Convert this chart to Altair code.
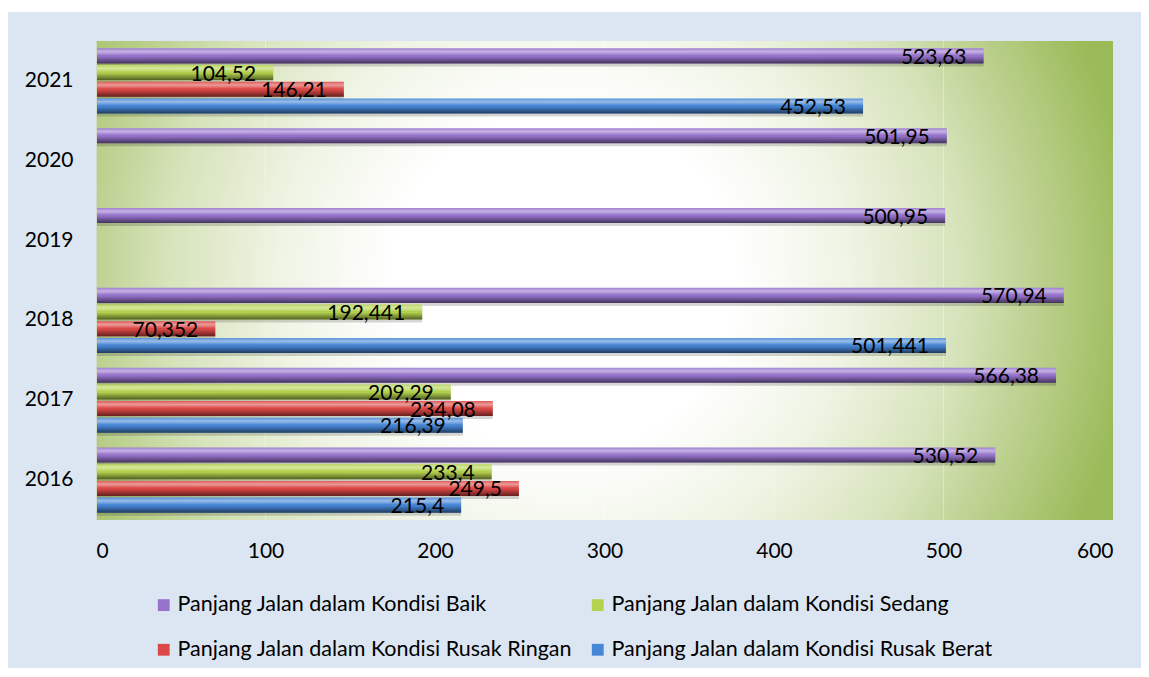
import altair as alt
import pandas as pd

# ---- data ----
years = ["2016", "2017", "2018", "2019", "2020", "2021"]
series = [
    "Panjang Jalan dalam Kondisi Baik",
    "Panjang Jalan dalam Kondisi Sedang",
    "Panjang Jalan dalam Kondisi Rusak Ringan",
    "Panjang Jalan dalam Kondisi Rusak Berat",
]
baik = [530.52, 566.38, 570.94, 500.95, 501.95, 523.63]
sedang = [233.4, 209.29, 192.441, None, None, 104.52]
rusak_ringan = [249.5, 234.08, 70.352, None, None, 146.21]
rusak_berat = [215.4, 216.39, 501.441, None, None, 452.53]
x_ticks = [0, 100, 200, 300, 400, 500, 600]
grid_values = [100, 200, 300, 400, 500]
colors = ["#9673cc", "#b4d24e", "#dc4846", "#4686d6"]

rows = []
for s, vals in zip(series, [baik, sedang, rusak_ringan, rusak_berat]):
    for y, v in zip(years, vals):
        if v is None:
            continue
        rows.append({"year": y, "series": s, "value": v,
                     "label": str(v).replace(".", ",")})
df = pd.DataFrame(rows)

W, H = 1017, 479
FONT = "Lato"

x_axis = alt.Axis(values=x_ticks, grid=False, domain=False, ticks=False,
                  labelPadding=20, labelFontSize=21, labelFont=FONT,
                  labelColor="#000000", title=None, zindex=1)
y_axis = alt.Axis(title=None, ticks=False, domain=True, domainColor="#d4d9c8",
                  labelPadding=23, labelFontSize=21, labelFont=FONT,
                  labelColor="#000000", zindex=1)

x_enc = alt.X("value:Q", scale=alt.Scale(domain=[0, 600], nice=False, zero=True),
              axis=x_axis)
y_enc = alt.Y("year:O", sort="descending",
              scale=alt.Scale(domain=years[::-1], paddingInner=0, paddingOuter=0),
              axis=y_axis)
yoff_scale = alt.Scale(type="band", domain=series, paddingInner=0.1, paddingOuter=0.44)
yoff_enc = alt.YOffset("series:N", scale=yoff_scale, sort=series)

one = pd.DataFrame({"k": [0]})

# outer light-blue frame of the chart area
frame = alt.Chart(one).mark_rect(color="#dce6f2").encode(
    x=alt.value(-88), x2=alt.value(1045), y=alt.value(-29), y2=alt.value(627)
)

# plot-area radial gradient background
bg_grad = alt.RadialGradient(
    gradient="radial",
    x1=0.46, y1=0.5, r1=0.0,
    x2=0.46, y2=0.5, r2=0.56,
    stops=[
        alt.GradientStop(color="#ffffff", offset=0),
        alt.GradientStop(color="#ffffff", offset=0.3),
        alt.GradientStop(color="#eff4e4", offset=0.5),
        alt.GradientStop(color="#d6e3ba", offset=0.7),
        alt.GradientStop(color="#b7cd86", offset=0.86),
        alt.GradientStop(color="#9bbb59", offset=1),
    ],
)
background = alt.Chart(one).mark_rect(color=bg_grad).encode(
    x=alt.value(0), x2=alt.value(W), y=alt.value(0), y2=alt.value(H)
)

grid = alt.Chart(pd.DataFrame({"value": grid_values})).mark_rule(
    color="#ffffff", opacity=0.35, strokeWidth=1
).encode(x=x_enc)

shadow = alt.Chart(df).mark_bar(color="#000000", opacity=0.16).encode(
    x=x_enc, y=y_enc,
    yOffset=alt.YOffset("series:N", sort=series,
                        scale=alt.Scale(type="band", domain=series, paddingInner=0.1,
                                        paddingOuter=0.44, range=[3, H / 6 + 3])),
)

bars = alt.Chart(df).mark_bar().encode(
    x=x_enc, y=y_enc, yOffset=yoff_enc,
    color=alt.Color(
        "series:N",
        scale=alt.Scale(domain=series, range=colors),
        legend=alt.Legend(
            title=None, orient="none", legendX=57, legendY=553, columns=2,
            direction="horizontal",
            symbolType="square", symbolSize=140, symbolStrokeWidth=0,
            labelFont=FONT, labelFontSize=21.5, labelColor="#000000",
            labelLimit=700, labelOffset=3, columnPadding=14, rowPadding=22,
        ),
    ),
)

shine = alt.LinearGradient(
    gradient="linear", x1=0, y1=0, x2=0, y2=1,
    stops=[
        alt.GradientStop(color="rgba(255,255,255,0.10)", offset=0),
        alt.GradientStop(color="rgba(255,255,255,0.45)", offset=0.22),
        alt.GradientStop(color="rgba(255,255,255,0.10)", offset=0.42),
        alt.GradientStop(color="rgba(0,0,0,0.0)", offset=0.52),
        alt.GradientStop(color="rgba(0,0,0,0.30)", offset=0.78),
        alt.GradientStop(color="rgba(0,0,0,0.55)", offset=1),
    ],
)
overlay = alt.Chart(df).mark_bar(color=shine).encode(
    x=x_enc, y=y_enc, yOffset=yoff_enc
)

labels = alt.Chart(df).mark_text(
    align="right", baseline="middle", dx=-17, dy=2,
    font=FONT, fontSize=21, color="#000000"
).encode(x=x_enc, y=y_enc, yOffset=yoff_enc, text="label:N")

chart = alt.layer(
    frame, background, grid, shadow, bars, overlay, labels
).resolve_scale(yOffset="independent").properties(
    width=W, height=H,
    autosize=alt.AutoSizeParams(type="none"),
    padding={"left": 88, "top": 33, "right": 28, "bottom": 148},
    background="#ffffff",
).configure_view(stroke=None)

chart.save("out.html", embed_options={"renderer": "svg", "actions": False})
